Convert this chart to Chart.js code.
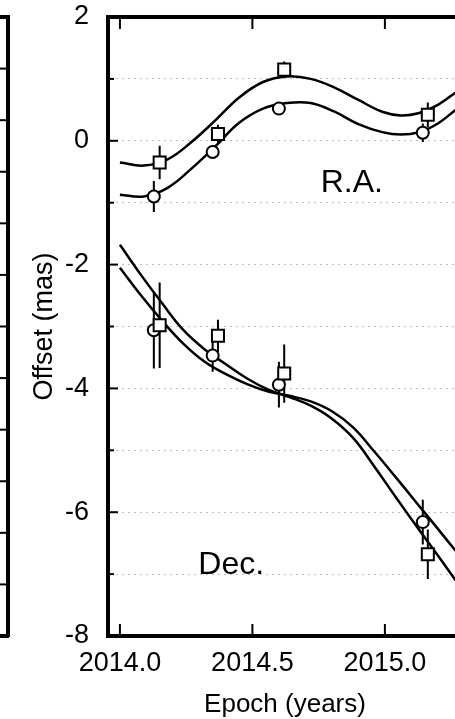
<!DOCTYPE html>
<html><head><meta charset="utf-8">
<script src="https://cdn.jsdelivr.net/npm/chart.js@4.4.1/dist/chart.umd.min.js"></script>
<style>
html,body{margin:0;padding:0;background:#fff;overflow:hidden;width:455px;height:719px;}
#wrap{position:relative;width:455px;height:719px;overflow:hidden;}
#main{position:absolute;left:0;top:0;}
#side{position:absolute;left:-190px;top:0;}
</style></head><body>
<div id="wrap">
<canvas id="side" width="200" height="719"></canvas>
<canvas id="main" width="462" height="719"></canvas>
</div>
<script>
// ---- tick labels ----
const xTickValues = [2014.0, 2014.5, 2015.0];
const yLabelValues = [-8, -6, -4, -2, 0, 2];

// ---- measured epochs ----
const circleEpochs = [2014.128, 2014.350, 2014.600, 2015.143];
const squareEpochs = [2014.150, 2014.370, 2014.620, 2015.162];

// ---- R.A. measurements ----
const raCircleVals = [-0.90, -0.18, 0.52, 0.13];
const raCircleErr  = [0.25, 0.10, 0.07, 0.15];
const raSquareVals = [-0.35, 0.11, 1.15, 0.42];
const raSquareErr  = [0.27, 0.15, 0.13, 0.20];

// ---- Dec. measurements ----
const decCircleVals = [-3.06, -3.47, -3.94, -6.16];
const decCircleErr  = [0.62, 0.26, 0.37, 0.36];
const decSquareVals = [-2.98, -3.15, -3.76, -6.68];
const decSquareErr  = [0.69, 0.26, 0.47, 0.40];

// ---- model curves ----
const raCurveYears = [2014.00, 2014.09, 2014.18, 2014.27, 2014.36, 2014.45, 2014.54, 2014.63, 2014.72, 2014.81, 2014.90, 2014.99, 2015.06, 2015.13, 2015.20, 2015.27];
const raSquareCurve = [-0.35, -0.40, -0.30, -0.02, 0.33, 0.70, 0.95, 1.04, 1.00, 0.86, 0.66, 0.47, 0.41, 0.45, 0.58, 0.79];
const raCircleCurve = [-0.87, -0.90, -0.76, -0.45, -0.09, 0.29, 0.52, 0.61, 0.61, 0.47, 0.27, 0.14, 0.10, 0.14, 0.28, 0.51];

const decCurveYears = [2014.00, 2014.08, 2014.16, 2014.24, 2014.32, 2014.40, 2014.48, 2014.56, 2014.64, 2014.72, 2014.80, 2014.88, 2014.96, 2015.04, 2015.12, 2015.20, 2015.27];
const decSquareCurve = [-1.68, -2.17, -2.63, -3.06, -3.37, -3.61, -3.84, -4.02, -4.14, -4.28, -4.49, -4.80, -5.26, -5.75, -6.23, -6.70, -7.12];
const decCircleCurve = [-2.05, -2.50, -2.91, -3.28, -3.57, -3.77, -3.93, -4.05, -4.12, -4.21, -4.37, -4.63, -5.02, -5.43, -5.85, -6.27, -6.64];

// ---- helpers ----
const pts = (xs, ys) => xs.map((x, i) => ({x, y: ys[i]}));
const errPts = (xs, ys, es) => xs.flatMap((x, i) => [{x, y: ys[i] - es[i]}, {x, y: ys[i] + es[i]}, {x, y: null}]);

const FONT = "'Liberation Sans', Arial, Helvetica, sans-serif";

const curve = (data) => ({type: 'line', data, borderColor: '#000', borderWidth: 2.5, pointRadius: 0, fill: false, tension: 0.4, order: 3});
const errbar = (data) => ({type: 'line', data, borderColor: '#000', borderWidth: 2, pointRadius: 0, spanGaps: false, fill: false, tension: 0, order: 2});
const circles = (data) => ({type: 'line', data, showLine: false, pointStyle: 'circle', pointRadius: 6, pointBackgroundColor: '#fff', pointBorderColor: '#000', pointBorderWidth: 2, order: 1});
const squares = (data) => ({type: 'line', data, showLine: false, pointStyle: 'rect', pointRadius: 8.5, pointBackgroundColor: '#fff', pointBorderColor: '#000', pointBorderWidth: 2, order: 0});

const noPad = s => { s.paddingTop = 0; s.paddingBottom = 0; s.paddingLeft = 0; s.paddingRight = 0; };

const innerTicks = {
  id: 'innerTicks',
  afterDraw(chart, args, o) {
    const {ctx, chartArea: a} = chart;
    ctx.save();
    ctx.strokeStyle = '#000';
    ctx.lineWidth = 2;
    const y = chart.scales.y;
    y.ticks.forEach(t => {
      if (t.value <= y.min || t.value >= y.max) return;
      const p = y.getPixelForValue(t.value);
      const len = (Math.abs(t.value) % 2 === 0) ? o.major : o.minor;
      ctx.beginPath();
      if (o.side === 'right') { ctx.moveTo(a.right, p); ctx.lineTo(a.right - len, p); }
      else { ctx.moveTo(a.left, p); ctx.lineTo(a.left + len, p); }
      ctx.stroke();
    });
    if (o.xLen) {
      const x = chart.scales.x;
      x.ticks.forEach(t => {
        const p = x.getPixelForValue(t.value);
        ctx.beginPath();
        ctx.moveTo(p, a.bottom); ctx.lineTo(p, a.bottom - o.xLen);
        ctx.moveTo(p, a.top); ctx.lineTo(p, a.top + o.xLen);
        ctx.stroke();
      });
    }
    ctx.restore();
  }
};

const textLabels = {
  id: 'textLabels',
  afterDraw(chart, args, o) {
    const {ctx} = chart;
    ctx.save();
    ctx.font = o.font;
    ctx.fillStyle = '#000';
    ctx.textAlign = 'center';
    ctx.textBaseline = 'middle';
    o.items.forEach(it => ctx.fillText(it.text, chart.scales.x.getPixelForValue(it.x), chart.scales.y.getPixelForValue(it.y)));
    ctx.restore();
  }
};

new Chart(document.getElementById('main'), {
  type: 'line',
  data: {
    datasets: [
      curve(pts(raCurveYears, raSquareCurve)),
      curve(pts(raCurveYears, raCircleCurve)),
      curve(pts(decCurveYears, decSquareCurve)),
      curve(pts(decCurveYears, decCircleCurve)),
      errbar(errPts(circleEpochs, raCircleVals, raCircleErr)),
      errbar(errPts(squareEpochs, raSquareVals, raSquareErr)),
      errbar(errPts(circleEpochs, decCircleVals, decCircleErr)),
      errbar(errPts(squareEpochs, decSquareVals, decSquareErr)),
      circles(pts(circleEpochs, raCircleVals)),
      circles(pts(circleEpochs, decCircleVals)),
      squares(pts(squareEpochs, raSquareVals)),
      squares(pts(squareEpochs, decSquareVals))
    ]
  },
  options: {
    responsive: false,
    animation: false,
    events: [],
    layout: {padding: 0, autoPadding: false},
    plugins: {
      legend: {display: false},
      tooltip: {enabled: false},
      innerTicks: {major: 10, minor: 6, xLen: 12},
      textLabels: {font: "32px " + FONT, items: [
        {text: 'R.A.', x: 2014.875, y: -0.69},
        {text: 'Dec.', x: 2014.42, y: -6.85}
      ]}
    },
    scales: {
      x: {
        type: 'linear', position: 'bottom', min: 2013.955, max: 2015.291,
        afterBuildTicks: s => { s.ticks = xTickValues.map(v => ({value: v})); },
        afterFit: s => { s.height = 83; noPad(s); },
        ticks: {autoSkip: false, maxRotation: 0, color: '#000', padding: 11, font: {family: FONT, size: 27}, callback: v => Number(v).toFixed(1)},
        grid: {drawOnChartArea: false, drawTicks: false},
        border: {display: true, width: 4, color: '#000'},
        title: {display: true, text: 'Epoch (years)', color: '#000', font: {family: FONT, size: 26, lineHeight: 1}, padding: {top: 0, bottom: 1}}
      },
      xTop: {
        type: 'linear', position: 'top', min: 2013.955, max: 2015.291,
        afterFit: s => { s.height = 17; noPad(s); },
        ticks: {display: false},
        grid: {drawOnChartArea: false, drawTicks: false},
        border: {display: true, width: 4, color: '#000'}
      },
      y: {
        type: 'linear', position: 'left', min: -8, max: 2,
        afterFit: s => { s.width = 108; noPad(s); },
        ticks: {stepSize: 1, autoSkip: false, color: '#000', padding: 19, font: {family: FONT, size: 27},
          callback: v => yLabelValues.includes(v) ? String(v) : ''},
        grid: {drawTicks: false, lineWidth: 1,
          color: c => (c.tick && (c.tick.value === -8 || c.tick.value === 2)) ? 'rgba(0,0,0,0)' : '#bdbdbd'},
        border: {display: true, width: 4, color: '#000', dash: [2, 4]},
        title: {display: true, text: 'Offset (mas)', color: '#000', font: {family: FONT, size: 27, lineHeight: 1.2}, padding: {top: 28, bottom: 0}}
      }
    }
  },
  plugins: [innerTicks, textLabels]
});

// ---- neighbouring panel edge (cropped at left) ----
new Chart(document.getElementById('side'), {
  type: 'line',
  data: {datasets: []},
  options: {
    responsive: false,
    animation: false,
    events: [],
    layout: {padding: 0, autoPadding: false},
    plugins: {legend: {display: false}, tooltip: {enabled: false}, innerTicks: {side: 'right', major: 9, minor: 9, xLen: 0}},
    scales: {
      x: {type: 'linear', position: 'bottom', min: 0, max: 1, afterFit: s => { s.height = 83; noPad(s); },
        ticks: {display: false}, grid: {drawOnChartArea: false, drawTicks: false}, border: {display: true, width: 4, color: '#000'}},
      xTop: {type: 'linear', position: 'top', min: 0, max: 1, afterFit: s => { s.height = 17; noPad(s); },
        ticks: {display: false}, grid: {drawOnChartArea: false, drawTicks: false}, border: {display: true, width: 4, color: '#000'}},
      y: {type: 'linear', position: 'right', min: 0, max: 12, afterFit: s => { s.width = 2; noPad(s); },
        ticks: {display: false, stepSize: 1}, grid: {drawOnChartArea: false, drawTicks: false}, border: {display: true, width: 4, color: '#000'}}
    }
  },
  plugins: [innerTicks]
});
</script>
</body></html>
